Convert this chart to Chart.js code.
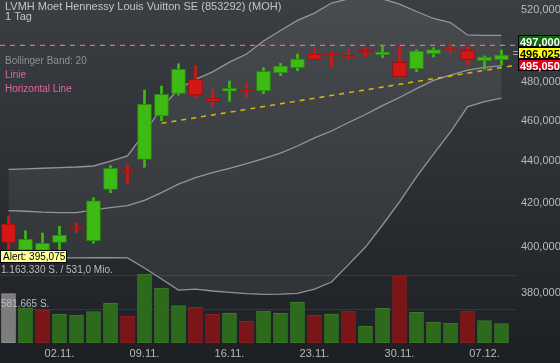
<!DOCTYPE html>
<html><head><meta charset="utf-8">
<script src="https://cdn.jsdelivr.net/npm/chart.js@4.4.1/dist/chart.umd.min.js"></script>
<style>html,body{margin:0;padding:0;background:#2c3034;overflow:hidden}canvas{display:block}</style>
</head><body>
<canvas id="c" width="560" height="363"></canvas>
<script>
// ---------- data ----------
const titleText = 'LVMH Moet Hennessy Louis Vuitton SE (853292) (MOH)';
const periodText = '1 Tag';
const legendTexts = ['Bollinger Band: 20', 'Linie', 'Horizontal Line'];
const dates = ['28.10.','29.10.','30.10.','02.11.','03.11.','04.11.','05.11.','06.11.','09.11.','10.11.','11.11.','12.11.','13.11.','16.11.','17.11.','18.11.','19.11.','20.11.','23.11.','24.11.','25.11.','26.11.','27.11.','30.11.','01.12.','02.12.','03.12.','04.12.','07.12.','08.12.'];
const xTickLabels = ['02.11.','09.11.','16.11.','23.11.','30.11.','07.12.'];
const openP  = [410.15,398.50,398.30,401.91,409.00,402.63,426.24,435.50,440.65,462.32,474.10,481.52,471.48,475.16,476.37,475.31,485.05,487.75,495.22,495.50,494.40,497.42,494.83,490.68,487.21,495.38,498.35,497.25,491.55,492.10];
const highP  = [413.81,407.12,406.08,409.11,410.74,422.29,437.54,437.88,475.84,477.96,489.92,488.67,476.21,480.61,479.55,487.75,490.14,495.22,498.91,496.70,497.97,498.52,500.02,499.46,497.58,498.69,501.13,499.46,494.12,497.42];
const lowP   = [397.60,396.30,396.10,398.50,406.21,401.47,424.63,429.08,436.76,459.92,473.21,471.80,466.80,469.92,471.80,473.89,483.45,486.13,492.10,487.75,492.48,493.74,493.19,482.38,485.59,493.57,495.93,489.21,486.89,489.21];
const closeP = [401.91,403.25,401.47,405.04,408.10,420.88,436.28,434.50,468.36,473.58,486.89,473.21,469.92,476.74,475.16,485.81,488.67,492.48,492.30,494.60,493.50,496.15,496.30,482.91,496.87,497.70,497.75,492.10,493.57,494.67];
const volume = [843400,598800,559400,491000,479000,535500,679200,461900,1180400,940900,638100,610700,491000,508100,371200,547400,508100,696300,473900,496100,547400,290800,593600,1146200,525200,359300,342200,547400,381500,330200];
const bbUpper  = [435.8,436.0,436.3,436.6,436.9,437.4,439.8,442.3,453.8,466.6,476.4,481.5,485.5,490.8,495.2,502.4,508.3,514.0,518.2,524.0,526.4,526.9,526.4,523.4,519.1,515.1,512.8,505.8,505.5,505.5];
const bbMiddle = [416.3,416.0,415.6,415.4,415.4,416.6,417.7,418.6,421.0,424.7,428.7,431.8,434.2,436.2,438.5,441.0,443.7,447.2,451.2,454.7,459.0,463.1,467.7,471.9,476.6,480.9,483.8,486.5,487.9,488.9];
const bbLower  = [395.2,395.1,395.1,395.0,395.0,395.1,395.1,395.0,390.6,385.9,381.2,381.6,380.8,380.2,379.7,379.4,379.5,379.8,381.6,384.6,392.1,399.8,409.7,420.3,432.1,443.2,454.2,467.0,469.8,471.6];
const trendX = [9, 29.853];
const trendY = [458.6, 489.1];
const horizontalLine = 500.0;
const yTickValues = [380, 400, 420, 440, 460, 480, 520];
const volumeTicks = [581665, 1163330];
const volumeTurnoverMio = 531.0;
const alertValue = 395.075;
const quoteValues = [497.000, 496.025, 495.050];

// ---------- helpers ----------
const FONT = "'Liberation Sans', Arial, sans-serif";
const fmt3 = v => v.toFixed(3).replace('.', ',');
const fmtInt = v => String(Math.round(v)).replace(/\B(?=(\d{3})+(?!\d))/g, '.');
const X_MIN = -0.5, X_MAX = 29.853;
const GREEN = '#3dbb14', GREEN_B = '#2c8c0f', RED = '#d51616', RED_B = '#a10e0e';
const isUp = closeP.map((c, i) => c >= openP[i]);
const bodyData = dates.map((d, i) => ({x: i, y: [openP[i], closeP[i]]}));
const wickData = dates.map((d, i) => ({x: i, y: [lowP[i], highP[i]]}));
const volData = volume.map((v, i) => ({x: i, y: v}));
const volUp = volume.map((v, i) => i === 0 ? null : closeP[i] >= closeP[i - 1]);
const line = arr => arr.map((v, i) => ({x: i, y: v}));
const noPad = s => { s.paddingTop = 0; s.paddingBottom = 0; s.paddingLeft = 0; s.paddingRight = 0; };

const overlay = {
  id: 'overlay',
  beforeDraw(chart) {
    const {ctx, width, height} = chart;
    const g = ctx.createLinearGradient(0, 0, 0, height);
    g.addColorStop(0, '#3b3f43');
    g.addColorStop(1, '#1c1f23');
    ctx.save(); ctx.fillStyle = g; ctx.fillRect(0, 0, width, height); ctx.restore();
  },
  beforeDatasetsDraw(chart) {
    const {ctx, chartArea} = chart; const yv = chart.scales.yv;
    ctx.save(); ctx.strokeStyle = 'rgba(255,255,255,0.09)'; ctx.lineWidth = 1;
    volumeTicks.forEach(v => {
      const py = Math.round(yv.getPixelForValue(v)) + 0.5;
      ctx.beginPath(); ctx.moveTo(chartArea.left, py); ctx.lineTo(chartArea.right, py); ctx.stroke();
    });
    ctx.restore();
  },
  afterDraw(chart) {
    const {ctx} = chart; const y = chart.scales.y; const yv = chart.scales.yv;
    ctx.save();
    ctx.textAlign = 'left'; ctx.textBaseline = 'alphabetic';
    ctx.font = '11px ' + FONT; ctx.fillStyle = '#c4c4c4';
    ctx.fillText(titleText, 5, 10);
    ctx.fillText(periodText, 5, 20);
    ctx.font = '10px ' + FONT;
    ctx.fillStyle = '#8f8f8f'; ctx.fillText(legendTexts[0], 5, 64);
    ctx.fillStyle = '#e5649f'; ctx.fillText(legendTexts[1], 5, 78);
    ctx.fillText(legendTexts[2], 5, 92);
    // volume labels
    ctx.fillStyle = '#bdbdbd';
    const p1 = yv.getPixelForValue(volumeTicks[1]);
    const p0 = yv.getPixelForValue(volumeTicks[0]);
    ctx.fillText(fmtInt(volumeTicks[1]) + ' S. / ' + volumeTurnoverMio.toFixed(1).replace('.', ',') + ' Mio.', 1, p1 - 2.5);
    ctx.fillText(fmtInt(volumeTicks[0]) + ' S.', 1, p0 - 2.5);
    // alert box
    const pa = y.getPixelForValue(alertValue);
    ctx.fillStyle = '#ffff99'; ctx.strokeStyle = '#000'; ctx.lineWidth = 1;
    ctx.fillRect(0.5, Math.round(pa - 8) + 0.5, 66, 12);
    ctx.strokeRect(0.5, Math.round(pa - 8) + 0.5, 66, 12);
    ctx.fillStyle = '#000'; ctx.font = '10px ' + FONT;
    ctx.fillText('Alert: ' + fmt3(alertValue), 3, Math.round(pa - 8) + 10);
    // quote boxes
    const yc = y.getPixelForValue(quoteValues[1]);
    const fills = ['#0a6b0a', '#ffff00', '#e0001b'];
    const tcol = ['#ffffff', '#000000', '#ffffff'];
    ctx.font = 'bold 11px ' + FONT;
    quoteValues.forEach((q, k) => {
      const cy = Math.round(yc + (k - 1) * 12);
      ctx.fillStyle = fills[k]; ctx.fillRect(518.5, cy - 5.5, 42, 11);
      ctx.strokeStyle = '#000'; ctx.strokeRect(518.5, cy - 5.5, 42, 11);
      ctx.fillStyle = tcol[k]; ctx.fillText(fmt3(q), 520, cy + 4.5);
    });
    // marker
    ctx.strokeStyle = '#a8a8a8'; ctx.lineWidth = 1;
    ctx.beginPath(); ctx.moveTo(513, Math.round(yc) - 1.5); ctx.lineTo(518, Math.round(yc) - 1.5);
    ctx.moveTo(513, Math.round(yc) + 1.5); ctx.lineTo(518, Math.round(yc) + 1.5); ctx.stroke();
    ctx.restore();
  }
};

new Chart(document.getElementById('c'), {
  type: 'bar',
  data: {
    datasets: [
      {type: 'line', label: 'BB upper', data: line(bbUpper), borderColor: 'rgba(165,165,165,0.85)', borderWidth: 1.3, pointRadius: 0, tension: 0, fill: '+2', backgroundColor: 'rgba(255,255,255,0.065)', order: 20},
      {type: 'line', label: 'BB middle', data: line(bbMiddle), borderColor: 'rgba(165,165,165,0.85)', borderWidth: 1.3, pointRadius: 0, tension: 0, fill: false, order: 19},
      {type: 'line', label: 'BB lower', data: line(bbLower), borderColor: 'rgba(165,165,165,0.85)', borderWidth: 1.3, pointRadius: 0, tension: 0, fill: false, order: 19},
      {type: 'bar', label: 'Volumen', yAxisID: 'yv', data: volData, grouped: false, barThickness: 14,
       backgroundColor: volUp.map(u => u === null ? '#7c7c7c' : (u ? '#2d6a1b' : '#7a1518')),
       borderColor: volUp.map(u => u === null ? '#959595' : (u ? '#3a7d26' : '#8e1e21')),
       borderWidth: 1, borderSkipped: false, order: 15},
      {type: 'line', label: 'Horizontal Line', data: [{x: X_MIN, y: horizontalLine}, {x: X_MAX, y: horizontalLine}], borderColor: '#e46a9c', borderWidth: 1.3, borderDash: [5, 5], pointRadius: 0, fill: false, order: 6},
      {type: 'line', label: 'Linie', data: trendX.map((x, i) => ({x, y: trendY[i]})), borderColor: '#d2b20c', borderWidth: 1.6, borderDash: [5, 5], pointRadius: 0, fill: false, order: 5},
      {type: 'bar', label: 'wick', data: wickData, grouped: false, barThickness: 2,
       backgroundColor: isUp.map(u => u ? GREEN : RED), borderWidth: 0, order: 2},
      {type: 'bar', label: 'body', data: bodyData, grouped: false, barThickness: 14,
       backgroundColor: isUp.map(u => u ? GREEN : RED), borderColor: isUp.map(u => u ? GREEN_B : RED_B),
       borderWidth: 1, borderSkipped: false, order: 1}
    ]
  },
  options: {
    responsive: false, animation: false, devicePixelRatio: 1,
    layout: {padding: 0, autoPadding: false},
    plugins: {legend: {display: false}, tooltip: {enabled: false}, title: {display: false}},
    scales: {
      x: {type: 'linear', min: X_MIN, max: X_MAX, bounds: 'data', offset: false, position: 'bottom',
          afterFit: s => { s.height = 20; noPad(s); },
          afterBuildTicks: s => { s.ticks = xTickLabels.map(l => ({value: dates.indexOf(l)})); },
          grid: {display: false, drawTicks: false}, border: {display: false},
          ticks: {autoSkip: false, maxRotation: 0, padding: 4, color: '#b9b9b9', font: {family: FONT, size: 11},
                  callback: v => dates[v]}},
      y: {type: 'logarithmic', position: 'right', min: 359.46, max: 525.77, bounds: 'data',
          afterFit: s => { s.width = 44; noPad(s); },
          afterBuildTicks: s => { s.ticks = yTickValues.map(v => ({value: v})); },
          grid: {display: false, drawTicks: false}, border: {display: false},
          ticks: {padding: 5, color: '#b9b9b9', font: {family: FONT, size: 11}, callback: v => fmt3(v)}},
      yv: {type: 'linear', display: false, min: 0, max: 5868000}
    }
  },
  plugins: [overlay]
});
</script>
</body></html>
